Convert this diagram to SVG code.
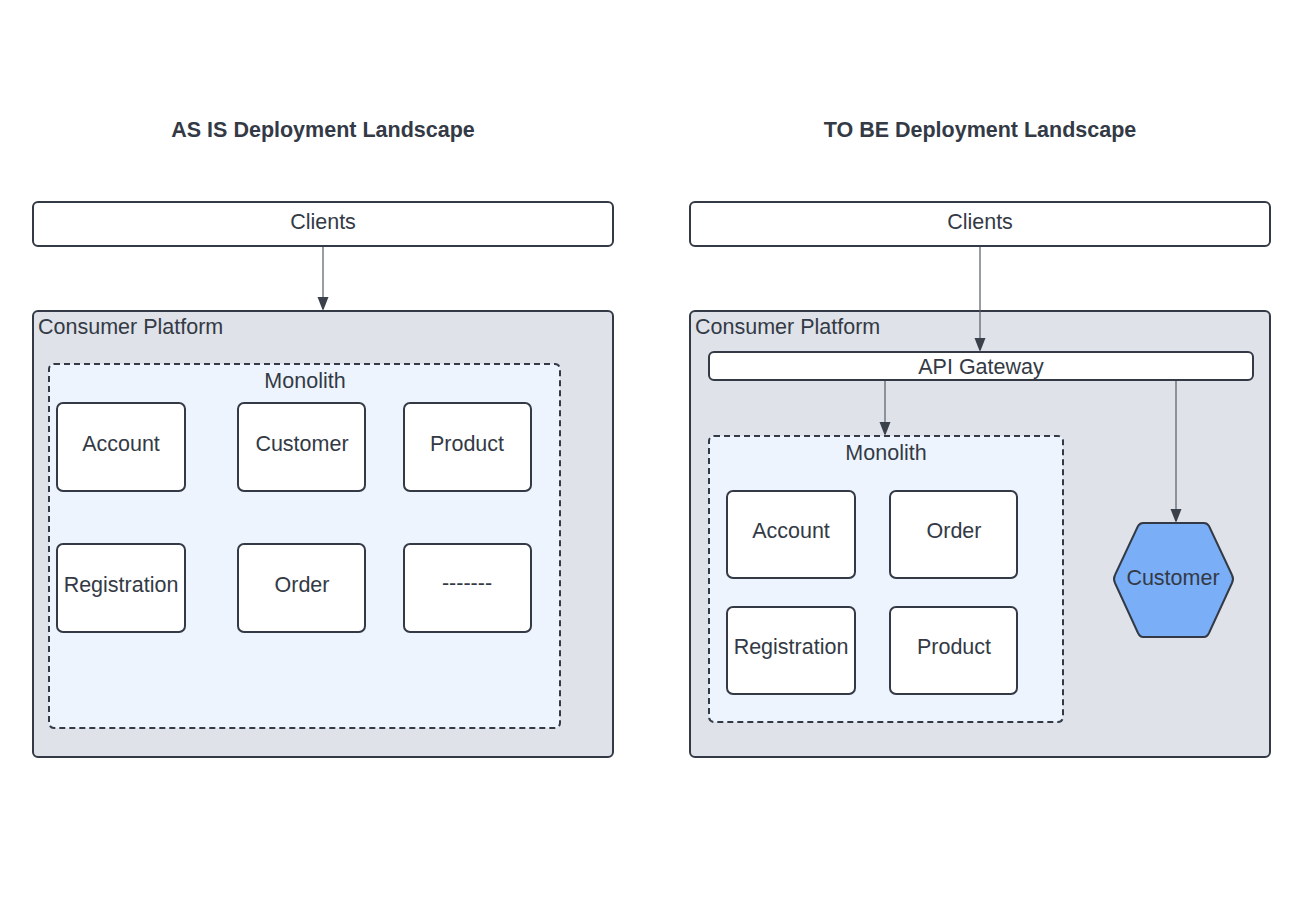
<svg xmlns="http://www.w3.org/2000/svg" width="1316" height="920" viewBox="0 0 1316 920">
<defs>
<marker id="arr" markerWidth="12" markerHeight="16" refX="13" refY="5.5" orient="auto" markerUnits="userSpaceOnUse">
<path d="M0,0 L14,5.5 L0,11 Z" fill="#3a414a"/>
</marker>
<style>
.t{font-family:"Liberation Sans",Arial,sans-serif;font-size:21.5px;fill:#333a45;}
.title{font-family:"Liberation Sans",Arial,sans-serif;font-size:21.5px;font-weight:bold;fill:#333a45;}
.box{fill:#ffffff;stroke:#333a45;stroke-width:2;}
.plat{fill:#dfe2e8;stroke:#333a45;stroke-width:2;}
.mono{fill:#edf4fe;stroke:#333a45;stroke-width:2;stroke-dasharray:6 4;}
.conn{stroke:#555c66;stroke-width:1.2;fill:none;}
</style>
</defs>
<rect width="1316" height="920" fill="#ffffff"/>
<text class="title" x="323" y="137" text-anchor="middle">AS IS Deployment Landscape</text>
<text class="title" x="980" y="137" text-anchor="middle">TO BE Deployment Landscape</text>

<g id="left-clients"><rect class="box" x="33" y="202" width="580" height="44" rx="5"/><text class="t" x="323" y="229" text-anchor="middle">Clients</text></g>
<g id="left-platform"><rect class="plat" x="33" y="311" width="580" height="446" rx="5"/><text class="t" x="38" y="334">Consumer Platform</text></g>
<g id="left-monolith"><rect class="mono" x="49" y="364" width="511" height="364" rx="5"/><text class="t" x="305" y="388" text-anchor="middle">Monolith</text></g>
<g id="l-account"><rect class="box" x="57" y="403" width="128" height="88" rx="6"/><text class="t" x="121" y="451" text-anchor="middle">Account</text></g>
<g id="l-customer"><rect class="box" x="238" y="403" width="127" height="88" rx="6"/><text class="t" x="302" y="451" text-anchor="middle">Customer</text></g>
<g id="l-product"><rect class="box" x="404" y="403" width="127" height="88" rx="6"/><text class="t" x="467" y="451" text-anchor="middle">Product</text></g>
<g id="l-registration"><rect class="box" x="57" y="544" width="128" height="88" rx="6"/><text class="t" x="121" y="592" text-anchor="middle">Registration</text></g>
<g id="l-order"><rect class="box" x="238" y="544" width="127" height="88" rx="6"/><text class="t" x="302" y="592" text-anchor="middle">Order</text></g>
<g id="l-more"><rect class="box" x="404" y="544" width="127" height="88" rx="6"/><text class="t" x="467" y="590" text-anchor="middle">-------</text></g>

<g id="right-clients"><rect class="box" x="690" y="202" width="580" height="44" rx="5"/><text class="t" x="980" y="229" text-anchor="middle">Clients</text></g>
<g id="right-platform"><rect class="plat" x="690" y="311" width="580" height="446" rx="5"/><text class="t" x="695" y="334">Consumer Platform</text></g>
<g id="api-gateway"><rect class="box" x="709" y="352" width="544" height="28" rx="5"/><text class="t" x="981" y="374" text-anchor="middle">API Gateway</text></g>
<g id="right-monolith"><rect class="mono" x="709" y="436" width="354" height="286" rx="5"/><text class="t" x="886" y="460" text-anchor="middle">Monolith</text></g>
<g id="r-account"><rect class="box" x="727" y="491" width="128" height="87" rx="6"/><text class="t" x="791" y="538" text-anchor="middle">Account</text></g>
<g id="r-order"><rect class="box" x="890" y="491" width="127" height="87" rx="6"/><text class="t" x="954" y="538" text-anchor="middle">Order</text></g>
<g id="r-registration"><rect class="box" x="727" y="607" width="128" height="87" rx="6"/><text class="t" x="791" y="654" text-anchor="middle">Registration</text></g>
<g id="r-product"><rect class="box" x="890" y="607" width="127" height="87" rx="6"/><text class="t" x="954" y="654" text-anchor="middle">Product</text></g>
<g id="r-customer"><path d="M1143,523 L1204,523 Q1207,523 1209,526 L1232,575 Q1234,579 1232,583 L1209,633 Q1207,637 1204,637 L1143,637 Q1140,637 1138,633 L1115,583 Q1113,579 1115,575 L1138,526 Q1140,523 1143,523 Z" fill="#7aaef7" stroke="#333a45" stroke-width="2"/><text class="t" x="1173" y="585" text-anchor="middle">Customer</text></g>

<g id="connectors">
<line class="conn" x1="323" y1="247" x2="323" y2="310" marker-end="url(#arr)"/>
<line class="conn" x1="980" y1="247" x2="980" y2="351" marker-end="url(#arr)"/>
<line class="conn" x1="885" y1="381" x2="885" y2="435" marker-end="url(#arr)"/>
<line class="conn" x1="1176" y1="381" x2="1176" y2="522" marker-end="url(#arr)"/>
</g>
</svg>
